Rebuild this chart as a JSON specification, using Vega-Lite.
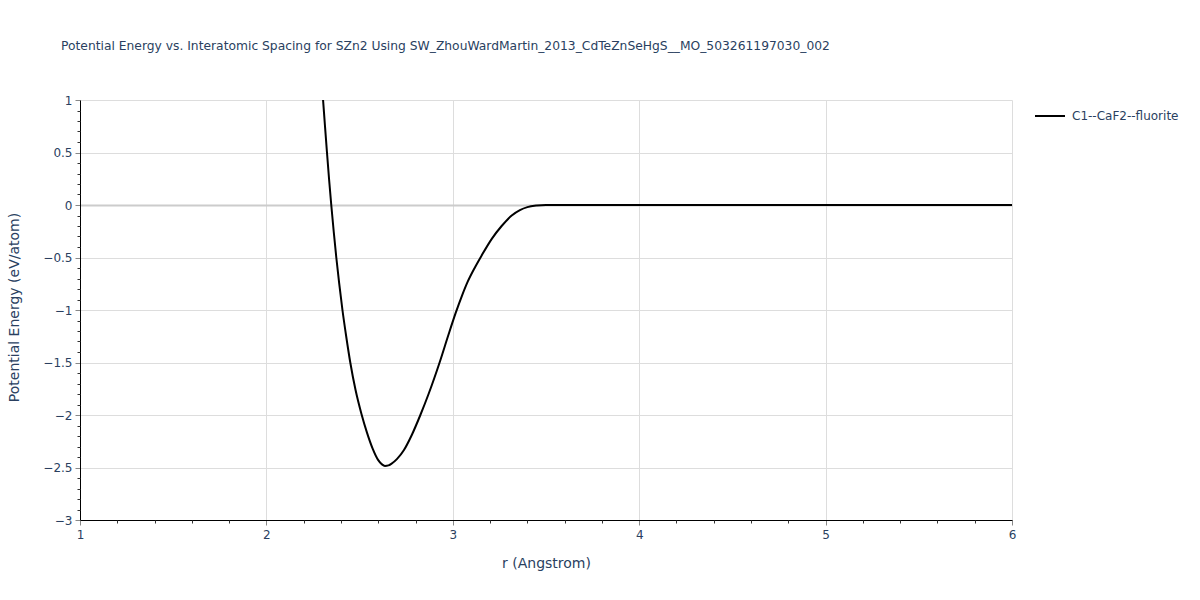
{
  "$schema": "https://vega.github.io/schema/vega-lite/v6.json",
  "width": 932,
  "height": 420,
  "autosize": {"type": "none"},
  "padding": {"left": 80, "top": 100, "right": 188, "bottom": 80},
  "background": "white",
  "config": {"view": {"stroke": null}, "font": "DejaVu Sans"},
  "title": {
    "text": "Potential Energy vs. Interatomic Spacing for SZn2 Using SW_ZhouWardMartin_2013_CdTeZnSeHgS__MO_503261197030_002",
    "anchor": "start",
    "frame": "group",
    "dx": -19,
    "offset": 19,
    "baseline": "middle",
    "fontSize": 12.3,
    "fontWeight": "normal",
    "color": "#2a3f5f",
    "font": "DejaVu Sans"
  },
  "data": {
    "values": [
      {"r": 2.296, "E": 1.19, "series": "C1--CaF2--fluorite"},
      {"r": 2.304, "E": 1.0, "series": "C1--CaF2--fluorite"},
      {"r": 2.314, "E": 0.76, "series": "C1--CaF2--fluorite"},
      {"r": 2.325, "E": 0.5, "series": "C1--CaF2--fluorite"},
      {"r": 2.336, "E": 0.25, "series": "C1--CaF2--fluorite"},
      {"r": 2.348, "E": 0.0, "series": "C1--CaF2--fluorite"},
      {"r": 2.361, "E": -0.25, "series": "C1--CaF2--fluorite"},
      {"r": 2.375, "E": -0.5, "series": "C1--CaF2--fluorite"},
      {"r": 2.39, "E": -0.74, "series": "C1--CaF2--fluorite"},
      {"r": 2.408, "E": -1.0, "series": "C1--CaF2--fluorite"},
      {"r": 2.428, "E": -1.25, "series": "C1--CaF2--fluorite"},
      {"r": 2.45, "E": -1.5, "series": "C1--CaF2--fluorite"},
      {"r": 2.478, "E": -1.76, "series": "C1--CaF2--fluorite"},
      {"r": 2.51, "E": -1.99, "series": "C1--CaF2--fluorite"},
      {"r": 2.54, "E": -2.17, "series": "C1--CaF2--fluorite"},
      {"r": 2.57, "E": -2.32, "series": "C1--CaF2--fluorite"},
      {"r": 2.6, "E": -2.43, "series": "C1--CaF2--fluorite"},
      {"r": 2.62, "E": -2.47, "series": "C1--CaF2--fluorite"},
      {"r": 2.636, "E": -2.485, "series": "C1--CaF2--fluorite"},
      {"r": 2.655, "E": -2.48, "series": "C1--CaF2--fluorite"},
      {"r": 2.67, "E": -2.465, "series": "C1--CaF2--fluorite"},
      {"r": 2.7, "E": -2.42, "series": "C1--CaF2--fluorite"},
      {"r": 2.738, "E": -2.333, "series": "C1--CaF2--fluorite"},
      {"r": 2.78, "E": -2.19, "series": "C1--CaF2--fluorite"},
      {"r": 2.826, "E": -2.0, "series": "C1--CaF2--fluorite"},
      {"r": 2.87, "E": -1.8, "series": "C1--CaF2--fluorite"},
      {"r": 2.931, "E": -1.49, "series": "C1--CaF2--fluorite"},
      {"r": 2.975, "E": -1.245, "series": "C1--CaF2--fluorite"},
      {"r": 3.015, "E": -1.03, "series": "C1--CaF2--fluorite"},
      {"r": 3.05, "E": -0.86, "series": "C1--CaF2--fluorite"},
      {"r": 3.08, "E": -0.73, "series": "C1--CaF2--fluorite"},
      {"r": 3.12, "E": -0.59, "series": "C1--CaF2--fluorite"},
      {"r": 3.155, "E": -0.48, "series": "C1--CaF2--fluorite"},
      {"r": 3.21, "E": -0.32, "series": "C1--CaF2--fluorite"},
      {"r": 3.262, "E": -0.2, "series": "C1--CaF2--fluorite"},
      {"r": 3.316, "E": -0.1, "series": "C1--CaF2--fluorite"},
      {"r": 3.36, "E": -0.048, "series": "C1--CaF2--fluorite"},
      {"r": 3.4, "E": -0.02, "series": "C1--CaF2--fluorite"},
      {"r": 3.45, "E": -0.005, "series": "C1--CaF2--fluorite"},
      {"r": 3.5, "E": 0.0, "series": "C1--CaF2--fluorite"},
      {"r": 4.0, "E": 0.0, "series": "C1--CaF2--fluorite"},
      {"r": 5.0, "E": 0.0, "series": "C1--CaF2--fluorite"},
      {"r": 6.0, "E": 0.0, "series": "C1--CaF2--fluorite"}
    ]
  },
  "layer": [
    {
      "mark": {"type": "line", "color": "black", "strokeWidth": 2, "clip": true, "interpolate": "monotone"},
      "encoding": {
        "x": {
          "field": "r", "type": "quantitative",
          "scale": {"domain": [1, 6], "nice": false, "zero": false},
          "axis": {
            "values": [1, 2, 3, 4, 5, 6],
            "format": "~g",
            "labelFlush": false,
            "title": "r (Angstrom)",
            "titleFontSize": 14, "titleFontWeight": "normal", "titleColor": "#2a3f5f",
            "titleBaseline": "middle", "titleY": 43,
            "labelFontSize": 12, "labelColor": "#2a3f5f", "labelPadding": 4,
            "tickSize": 5, "tickColor": "#888888",
            "domainColor": "black", "domainWidth": 1,
            "grid": true, "gridColor": "#dddddd", "gridWidth": 1
          }
        },
        "y": {
          "field": "E", "type": "quantitative",
          "scale": {"domain": [-3, 1], "nice": false, "zero": false},
          "axis": {
            "values": [-3, -2.5, -2, -1.5, -1, -0.5, 0, 0.5, 1],
            "format": "~g",
            "labelFlush": false,
            "title": "Potential Energy (eV/atom)",
            "titleFontSize": 14, "titleFontWeight": "normal", "titleColor": "#2a3f5f",
            "titleBaseline": "middle", "titleX": -66, "titleY": 207,
            "labelFontSize": 12, "labelColor": "#2a3f5f", "labelPadding": 3,
            "tickSize": 5, "tickColor": "#888888",
            "domainColor": "black", "domainWidth": 1,
            "grid": true,
            "gridColor": {"condition": {"test": "datum.value === 0", "value": "#cccccc"}, "value": "#dddddd"},
            "gridWidth": {"condition": {"test": "datum.value === 0", "value": 2}, "value": 1}
          }
        },
        "color": {
          "field": "series", "type": "nominal",
          "scale": {"range": ["black"]},
          "legend": {
            "title": null,
            "orient": "none",
            "legendX": 954,
            "legendY": 0,
            "symbolType": "stroke",
            "symbolStrokeWidth": 2,
            "symbolSize": 900,
            "labelFontSize": 12,
            "labelColor": "#2a3f5f",
            "labelOffset": 6
          }
        }
      }
    },
    {
      "mark": {"type": "point", "opacity": 0},
      "encoding": {
        "x": {
          "field": "r", "type": "quantitative",
          "scale": {"domain": [1, 6], "nice": false, "zero": false},
          "axis": {
            "orient": "bottom",
            "values": [1.2, 1.4, 1.6, 1.8, 2.2, 2.4, 2.6, 2.8, 3.2, 3.4, 3.6, 3.8, 4.2, 4.4, 4.6, 4.8, 5.2, 5.4, 5.6, 5.8],
            "labels": false, "title": null, "domain": false, "grid": false,
            "tickSize": 3, "tickColor": "#333333"
          }
        },
        "y": {
          "field": "E", "type": "quantitative",
          "scale": {"domain": [-3, 1], "nice": false, "zero": false},
          "axis": {
            "orient": "left",
            "values": [-2.9, -2.8, -2.7, -2.6, -2.4, -2.3, -2.2, -2.1, -1.9, -1.8, -1.7, -1.6, -1.4, -1.3, -1.2, -1.1, -0.9, -0.8, -0.7, -0.6, -0.4, -0.3, -0.2, -0.1, 0.1, 0.2, 0.3, 0.4, 0.6, 0.7, 0.8, 0.9],
            "labels": false, "title": null, "domain": false, "grid": false,
            "tickSize": 3, "tickColor": "#333333"
          }
        }
      }
    }
  ],
  "resolve": {"axis": {"x": "independent", "y": "independent"}}
}
